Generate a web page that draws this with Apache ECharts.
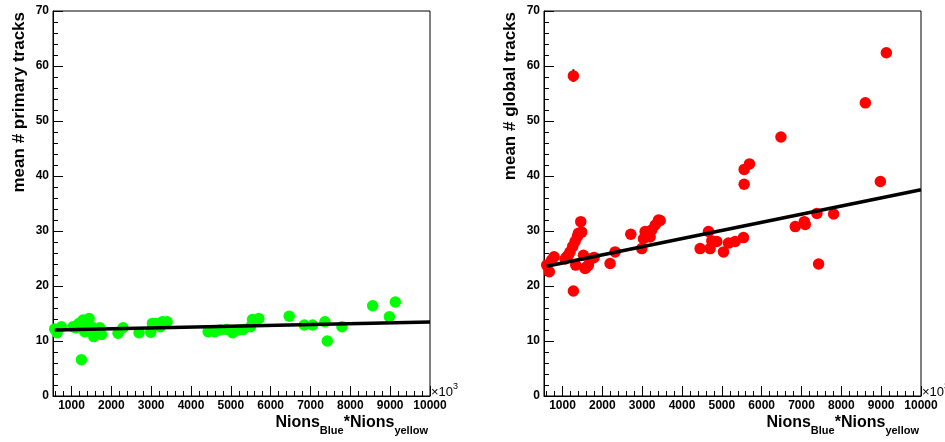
<!DOCTYPE html>
<html><head><meta charset="utf-8">
<script src="https://cdn.jsdelivr.net/npm/echarts@6/dist/echarts.min.js"></script>
<style>html,body{margin:0;padding:0;background:#fff}#c{width:945px;height:442px}</style>
</head><body><div id="c"></div>
<script>
// ---- data ----
const primaryX = [578, 636, 746, 1038, 1110, 1188, 1248, 1290, 1332, 1375, 1442, 1500, 1558, 1625, 1709, 1751, 2168, 2294, 2696, 2989, 3031, 3132, 3232, 3283, 3400, 4430, 4597, 4723, 4890, 5041, 5183, 5309, 5493, 5544, 5703, 6466, 6843, 7052, 7362, 7421, 7790, 8561, 8980, 9130];
const primaryY = [12.2, 11.5, 12.6, 12.6, 12.4, 13.2, 6.6, 13.8, 11.7, 13.5, 14.1, 12.6, 10.8, 11.3, 12.4, 11.2, 11.4, 12.4, 11.5, 11.6, 13.2, 13.2, 12.6, 13.5, 13.5, 11.7, 11.7, 12.0, 12.1, 11.5, 12.0, 12.1, 12.6, 13.9, 14.1, 14.5, 12.9, 12.9, 13.5, 10.0, 12.6, 16.4, 14.4, 17.1];
const globalX = [602, 669, 728, 787, 1063, 1105, 1147, 1189, 1256, 1273, 1273, 1315, 1332, 1374, 1399, 1458, 1482, 1525, 1567, 1592, 1650, 1734, 1793, 2194, 2320, 2714, 2990, 3032, 3074, 3200, 3242, 3326, 3410, 3452, 4455, 4664, 4706, 4748, 4874, 5041, 5167, 5334, 5543, 5560, 5560, 5694, 6483, 6843, 7069, 7094, 7387, 7429, 7806, 8603, 8979, 9130];
const globalY = [23.8, 22.6, 24.7, 25.3, 24.9, 25.3, 25.6, 26.2, 27.2, 19.1, 58.2, 28.1, 23.8, 29.0, 29.6, 31.7, 29.8, 25.6, 23.2, 23.4, 23.8, 25.0, 25.2, 24.1, 26.2, 29.4, 26.8, 28.6, 29.9, 28.9, 30.2, 31.1, 32.0, 31.9, 26.8, 29.9, 26.8, 28.2, 28.1, 26.2, 27.8, 28.1, 28.8, 41.2, 38.5, 42.2, 47.1, 30.8, 31.7, 31.2, 33.2, 24.0, 33.1, 53.3, 39.0, 62.4];
const globalErrX = [1273];
const globalErrLow = [57.1];
const globalErrHigh = [59.4];
const fitPrimaryX = [578, 10000];
const fitPrimaryY = [12.0, 13.45];
const fitGlobalX = [602, 10000];
const fitGlobalY = [23.6, 37.5];
const xTickLabels = [1000, 2000, 3000, 4000, 5000, 6000, 7000, 8000, 9000, 10000];
const yTickLabels = [0, 10, 20, 30, 40, 50, 60, 70];
const yTitles = ['mean # primary tracks', 'mean # global tracks'];
const xTitleParts = ['Nions', 'Blue', '*Nions', 'yellow'];
const xMultiplier = ['×10', '3'];

// ---- layout ----
const FONT = '"Liberation Sans", Arial, Helvetica, sans-serif';
const X_MIN = 535, X_MAX = 10000;
const xMinorTicks = [];
for (let v = 600; v < X_MAX; v += 200) if (v % 1000 !== 0) xMinorTicks.push(v);
const rects = [
  {left: 53, right: 515, top: 11, bottom: 46},
  {left: 544, right: 24, top: 11, bottom: 46}
];
const zip = (xs, ys) => xs.map((x, i) => [x, ys[i]]);

const grids = [], xAxes = [], yAxes = [], series = [];
rects.forEach((r, i) => {
  grids.push(Object.assign({show: true, borderColor: '#000', borderWidth: 1, backgroundColor: 'transparent', containLabel: false}, r));
});
rects.forEach((r, i) => {
  grids.push(Object.assign({show: false, containLabel: false}, r));
});
[0, 1].forEach(i => {
  xAxes.push({
    gridIndex: i, type: 'value', min: X_MIN, max: X_MAX,
    axisLine: {show: true, onZero: false, lineStyle: {color: '#000', width: 1}},
    axisTick: {show: true, inside: true, length: 10, customValues: xTickLabels, lineStyle: {color: '#000', width: 1}},
    axisLabel: {show: true, customValues: xTickLabels, margin: 4, color: '#000', fontSize: 12, fontWeight: 'bold', fontFamily: FONT, showMinLabel: true, showMaxLabel: true,
      formatter: v => String(v)},
    splitLine: {show: false}
  });
  yAxes.push({
    gridIndex: i, type: 'value', min: 0, max: 70, interval: 10,
    axisLine: {show: true, onZero: false, lineStyle: {color: '#000', width: 1}},
    axisTick: {show: true, inside: true, length: 10, lineStyle: {color: '#000', width: 1}},
    minorTick: {show: true, splitNumber: 5, length: 5, lineStyle: {color: '#000', width: 1}},
    axisLabel: {show: true, margin: 4, color: '#000', fontSize: 12, fontWeight: 'bold', fontFamily: FONT,
      formatter: v => yTickLabels.includes(v) ? String(v) : ''},
    splitLine: {show: false}, minorSplitLine: {show: false}
  });
});
[0, 1].forEach(i => {
  xAxes.push({
    gridIndex: i + 2, type: 'value', min: X_MIN, max: X_MAX,
    axisLine: {show: false},
    axisTick: {show: true, inside: true, length: 5, customValues: xMinorTicks, lineStyle: {color: '#000', width: 1}},
    axisLabel: {show: false}, splitLine: {show: false}
  });
  yAxes.push({gridIndex: i + 2, type: 'value', min: 0, max: 70, show: false});
});

series.push({type: 'scatter', xAxisIndex: 0, yAxisIndex: 0, data: zip(primaryX, primaryY), symbol: 'circle', symbolSize: 11.5, itemStyle: {color: '#00ff00', opacity: 1}, z: 2});
series.push({type: 'line', xAxisIndex: 0, yAxisIndex: 0, data: zip(fitPrimaryX, fitPrimaryY), showSymbol: false, symbol: 'none', lineStyle: {color: '#000', width: 3.5}, z: 5});
series.push({type: 'custom', xAxisIndex: 1, yAxisIndex: 1, z: 1,
  data: globalErrX.map((x, i) => [x, globalErrLow[i], globalErrHigh[i]]),
  renderItem: (params, api) => {
    const lo = api.coord([api.value(0), api.value(1)]);
    const hi = api.coord([api.value(0), api.value(2)]);
    return {type: 'line', shape: {x1: lo[0], y1: lo[1], x2: hi[0], y2: hi[1]}, style: {stroke: '#000', lineWidth: 2}};
  }});
series.push({type: 'scatter', xAxisIndex: 1, yAxisIndex: 1, data: zip(globalX, globalY), symbol: 'circle', symbolSize: 11.5, itemStyle: {color: '#ff0000', opacity: 1}, z: 2});
series.push({type: 'line', xAxisIndex: 1, yAxisIndex: 1, data: zip(fitGlobalX, fitGlobalY), showSymbol: false, symbol: 'none', lineStyle: {color: '#000', width: 3.5}, z: 5});

const graphics = [];
const yTitleX = [19.5, 510];
const xTitleRight = [428, 919];
const multX = [431, 922];
[0, 1].forEach(i => {
  graphics.push({type: 'text', x: yTitleX[i], y: 12, rotation: Math.PI / 2,
    style: {text: yTitles[i], fill: '#000', font: 'bold 17px ' + FONT, align: 'right', verticalAlign: 'middle'}});
  graphics.push({type: 'text', x: xTitleRight[i], y: 415,
    style: {
      text: '{m|' + xTitleParts[0] + '}{s|' + xTitleParts[1] + '}{m|' + xTitleParts[2] + '}{s|' + xTitleParts[3] + '}',
      align: 'right', verticalAlign: 'top', fill: '#000',
      rich: {
        m: {fontSize: 16, fontWeight: 'bold', fontFamily: FONT, lineHeight: 16, fill: '#000', color: '#000'},
        s: {fontSize: 11, fontWeight: 'bold', fontFamily: FONT, lineHeight: 11, padding: [15, 0, 0, 0], fill: '#000', color: '#000'}
      }
    }});
  graphics.push({type: 'text', x: multX[i], y: 392,
    style: {
      text: '{n|' + xMultiplier[0] + '}{p|' + xMultiplier[1] + '}',
      align: 'left', verticalAlign: 'middle', fill: '#000',
      rich: {
        n: {fontSize: 13, fontFamily: FONT, lineHeight: 13, fill: '#000', color: '#000'},
        p: {fontSize: 9, fontFamily: FONT, lineHeight: 9, padding: [0, 0, 10, 0], fill: '#000', color: '#000'}
      }
    }});
});

const chart = echarts.init(document.getElementById('c'), null, {renderer: 'canvas'});
chart.setOption({
  animation: false,
  backgroundColor: '#fff',
  grid: grids, xAxis: xAxes, yAxis: yAxes, series: series, graphic: graphics
});
</script>
</body></html>
